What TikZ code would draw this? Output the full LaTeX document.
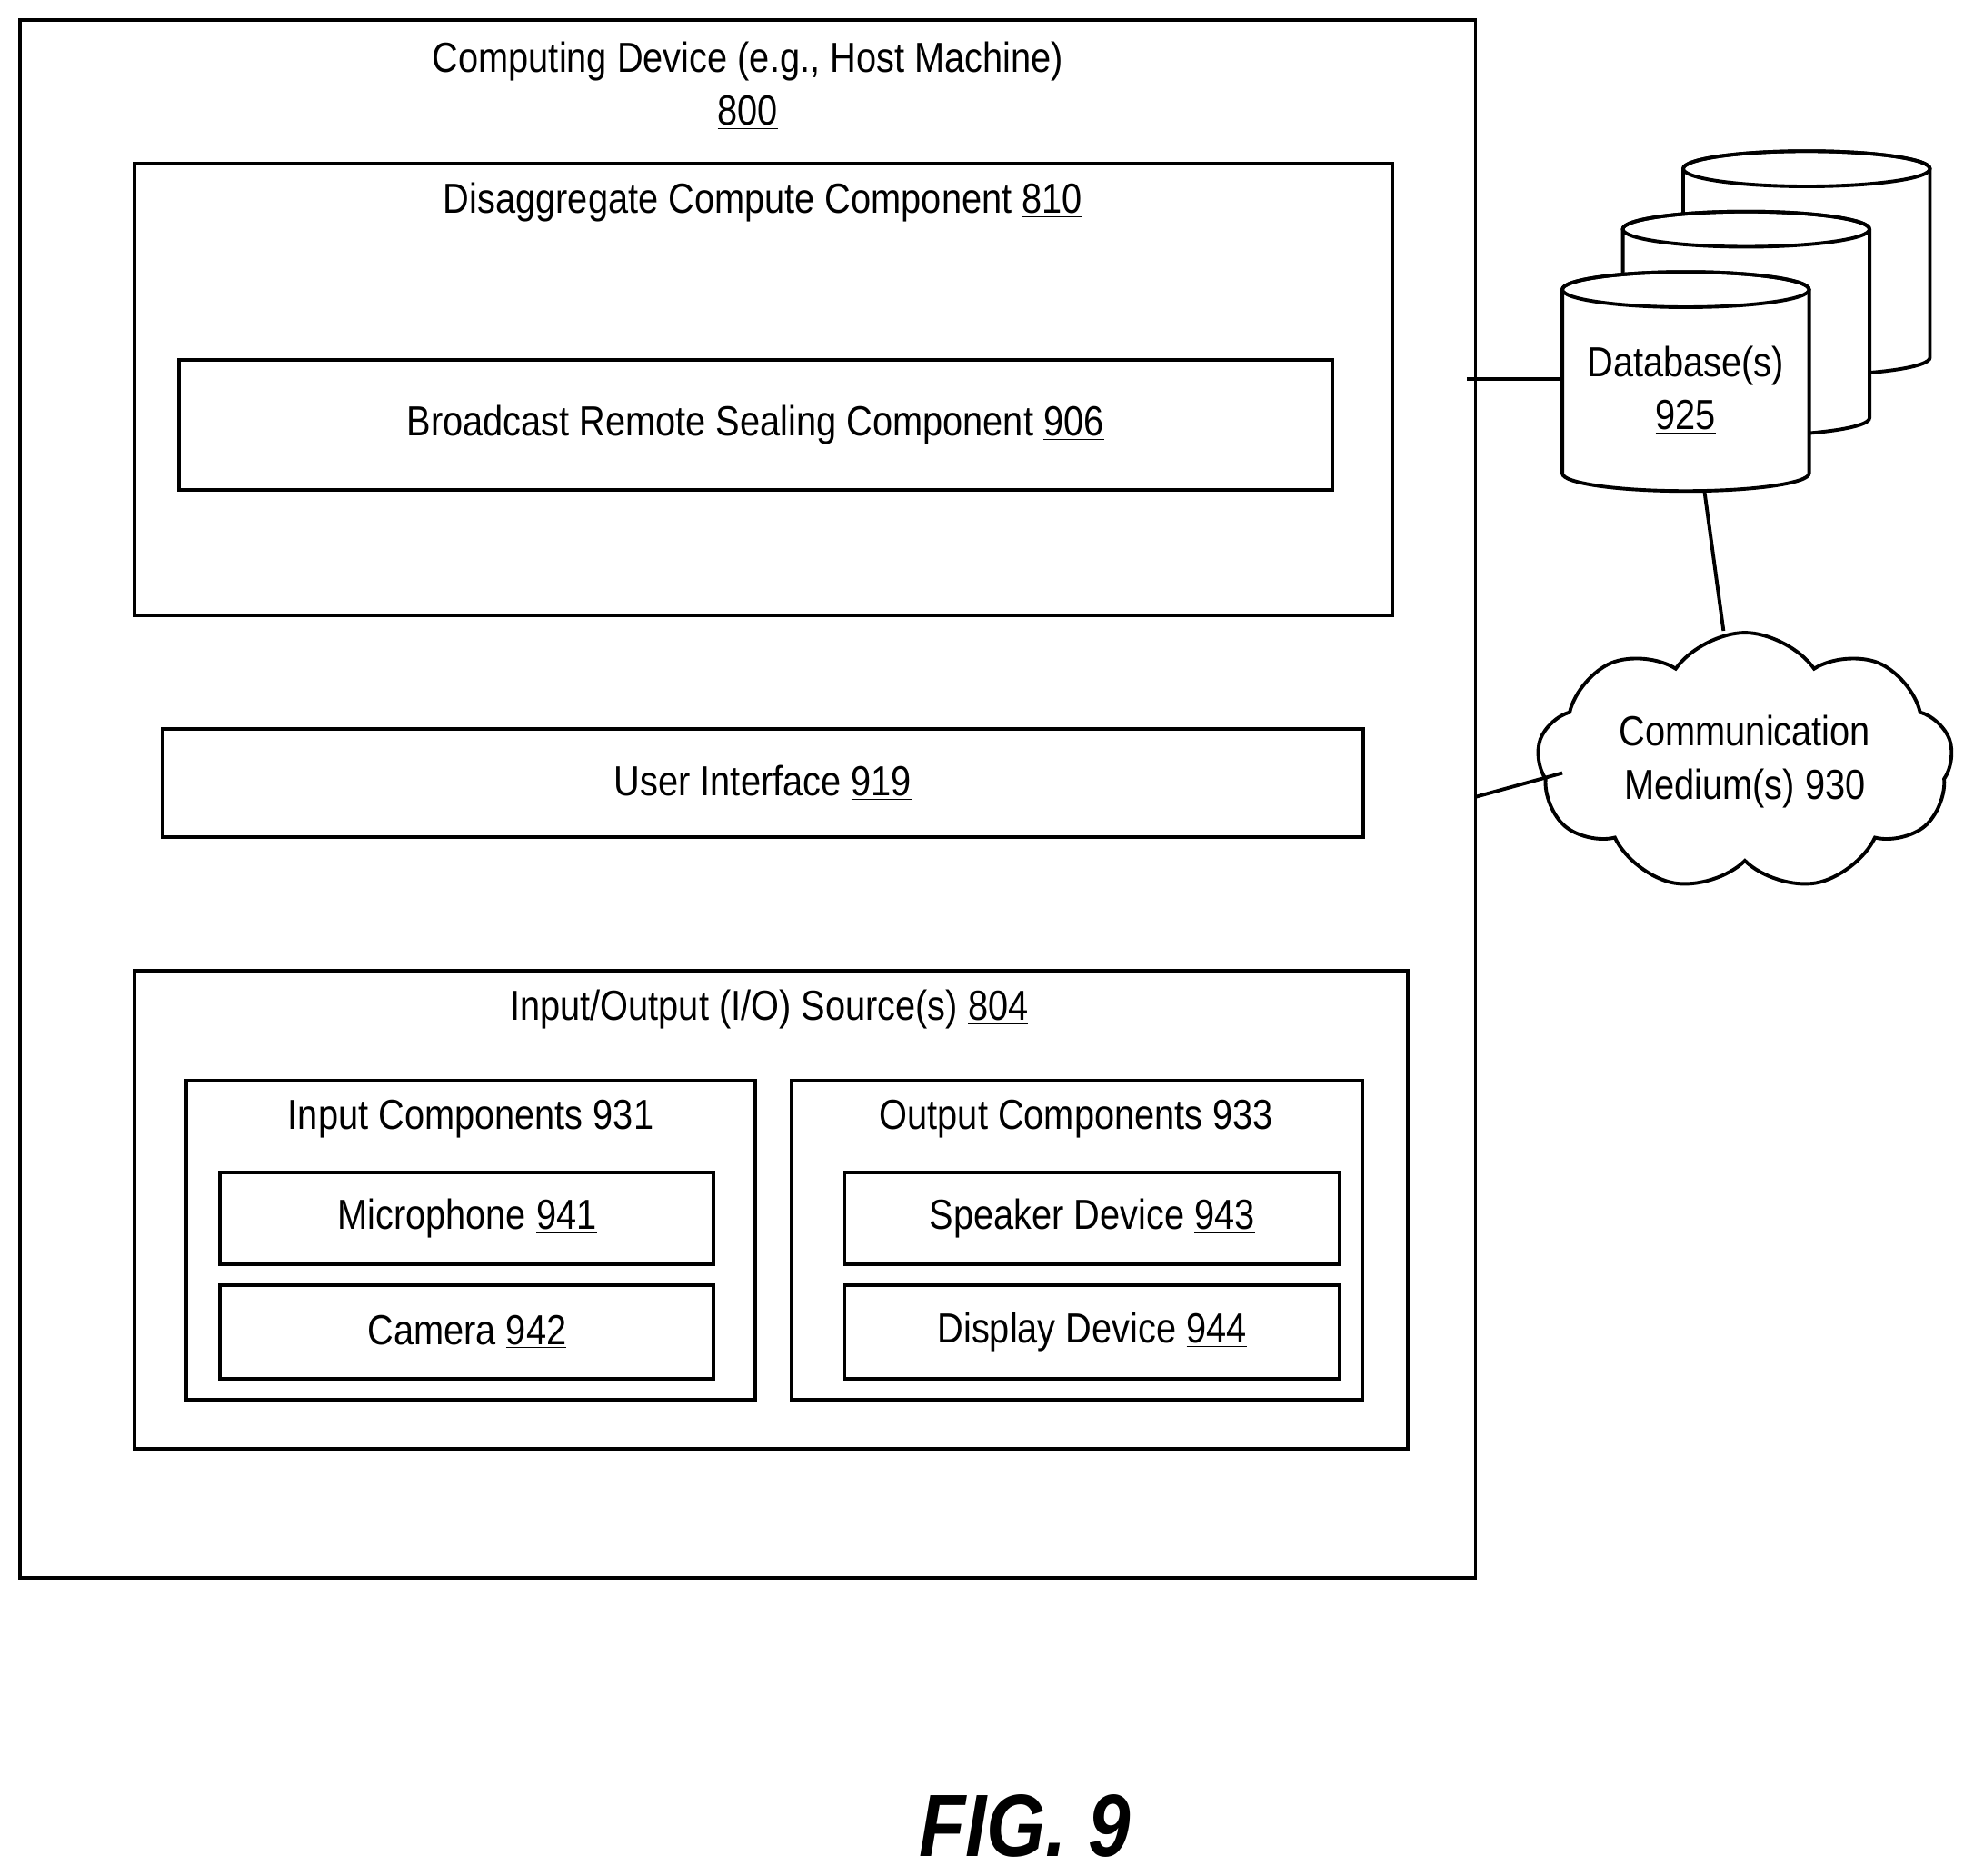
\documentclass[tikz,border=0pt]{standalone}
\usepackage{fontspec}
\setmainfont{Liberation Sans}[FakeStretch=0.86]
\usetikzlibrary{shapes.symbols}
\begin{document}
\begin{tikzpicture}[x=0.02cm,y=-0.02cm,line width=1.6pt,
  box/.style={draw,rectangle},
  lbl/.style={font=\fontsize{19}{24}\selectfont,align=center,inner sep=0pt},
  cyl/.style={draw,fill=white}]
\useasboundingbox (0,0) rectangle (1568,1490);
\node[box,minimum width=1156*0.02cm,minimum height=1237*0.02cm] (dev) at (594,634.5) {};
\node[lbl] (devt) at (594,68) {Computing Device (e.g., Host Machine)\\\underline{800}};
\node[box,minimum width=999*0.02cm,minimum height=359*0.02cm] (dis) at (606.5,309.5) {};
\node[lbl] (dist) at (606,161) {Disaggregate Compute Component \underline{810}};
\node[box,lbl,minimum width=916*0.02cm,minimum height=103*0.02cm] (brc) at (600,337.5) {Broadcast Remote Sealing Component \underline{906}};
\node[box,lbl,minimum width=954*0.02cm,minimum height=86*0.02cm] (ui) at (606,622) {User Interface \underline{919}};
\node[box,minimum width=1011*0.02cm,minimum height=380*0.02cm] (io) at (612.5,961) {};
\node[lbl] (iot) at (611,802) {Input/Output (I/O) Source(s) \underline{804}};
\node[box,minimum width=452*0.02cm,minimum height=254*0.02cm] (inp) at (374,985) {};
\node[lbl] (inpt) at (374,889) {Input Components \underline{931}};
\node[box,minimum width=453*0.02cm,minimum height=254*0.02cm] (outp) at (855.5,985) {};
\node[lbl] (outpt) at (855,889) {Output Components \underline{933}};
\node[box,lbl,minimum width=392*0.02cm,minimum height=73*0.02cm] (mic) at (371,967.5) {Microphone \underline{941}};
\node[box,lbl,minimum width=392*0.02cm,minimum height=74*0.02cm] (cam) at (371,1058) {Camera \underline{942}};
\node[box,lbl,minimum width=393*0.02cm,minimum height=73*0.02cm] (spk) at (867.5,967.5) {Speaker Device \underline{943}};
\node[box,lbl,minimum width=393*0.02cm,minimum height=74*0.02cm] (dsp) at (867.5,1058) {Display Device \underline{944}};
% cylinders
\foreach \x/\t/\b in {1337/134/284,1289/182/332,1241/230/376}{
  \draw[cyl] (\x,\t) -- (\x,\b) arc[start angle=180,end angle=0,x radius=98,y radius=14] -- (\x+196,\t) arc[start angle=0,end angle=-180,x radius=98,y radius=14] -- cycle;
  \draw (\x+98,\t) ellipse[x radius=98,y radius=14];
}
\node[lbl] (db) at (1339,310) {Database(s)\\\underline{925}};
\coordinate (dbb) at (1354,391);
\node[draw,cloud,cloud puffs=9,cloud puff arc=110,aspect=1.6,minimum width=330*0.02cm,minimum height=205*0.02cm,fill=white] (cl) at (1386,605) {};
\node[lbl] (clt) at (1386,605) {Communication\\Medium(s) \underline{930}};
\coordinate (d1) at (1165,301);
\coordinate (d2) at (1172,633);
\draw (d1) -- (1241,301);
\draw (dbb) -- (1369,501);
\draw (d2) -- (1241,614);
\node[font=\fontsize{40}{44}\selectfont\bfseries\itshape] (fig) at (814,1450) {FIG. 9};
\end{tikzpicture}
\end{document}
